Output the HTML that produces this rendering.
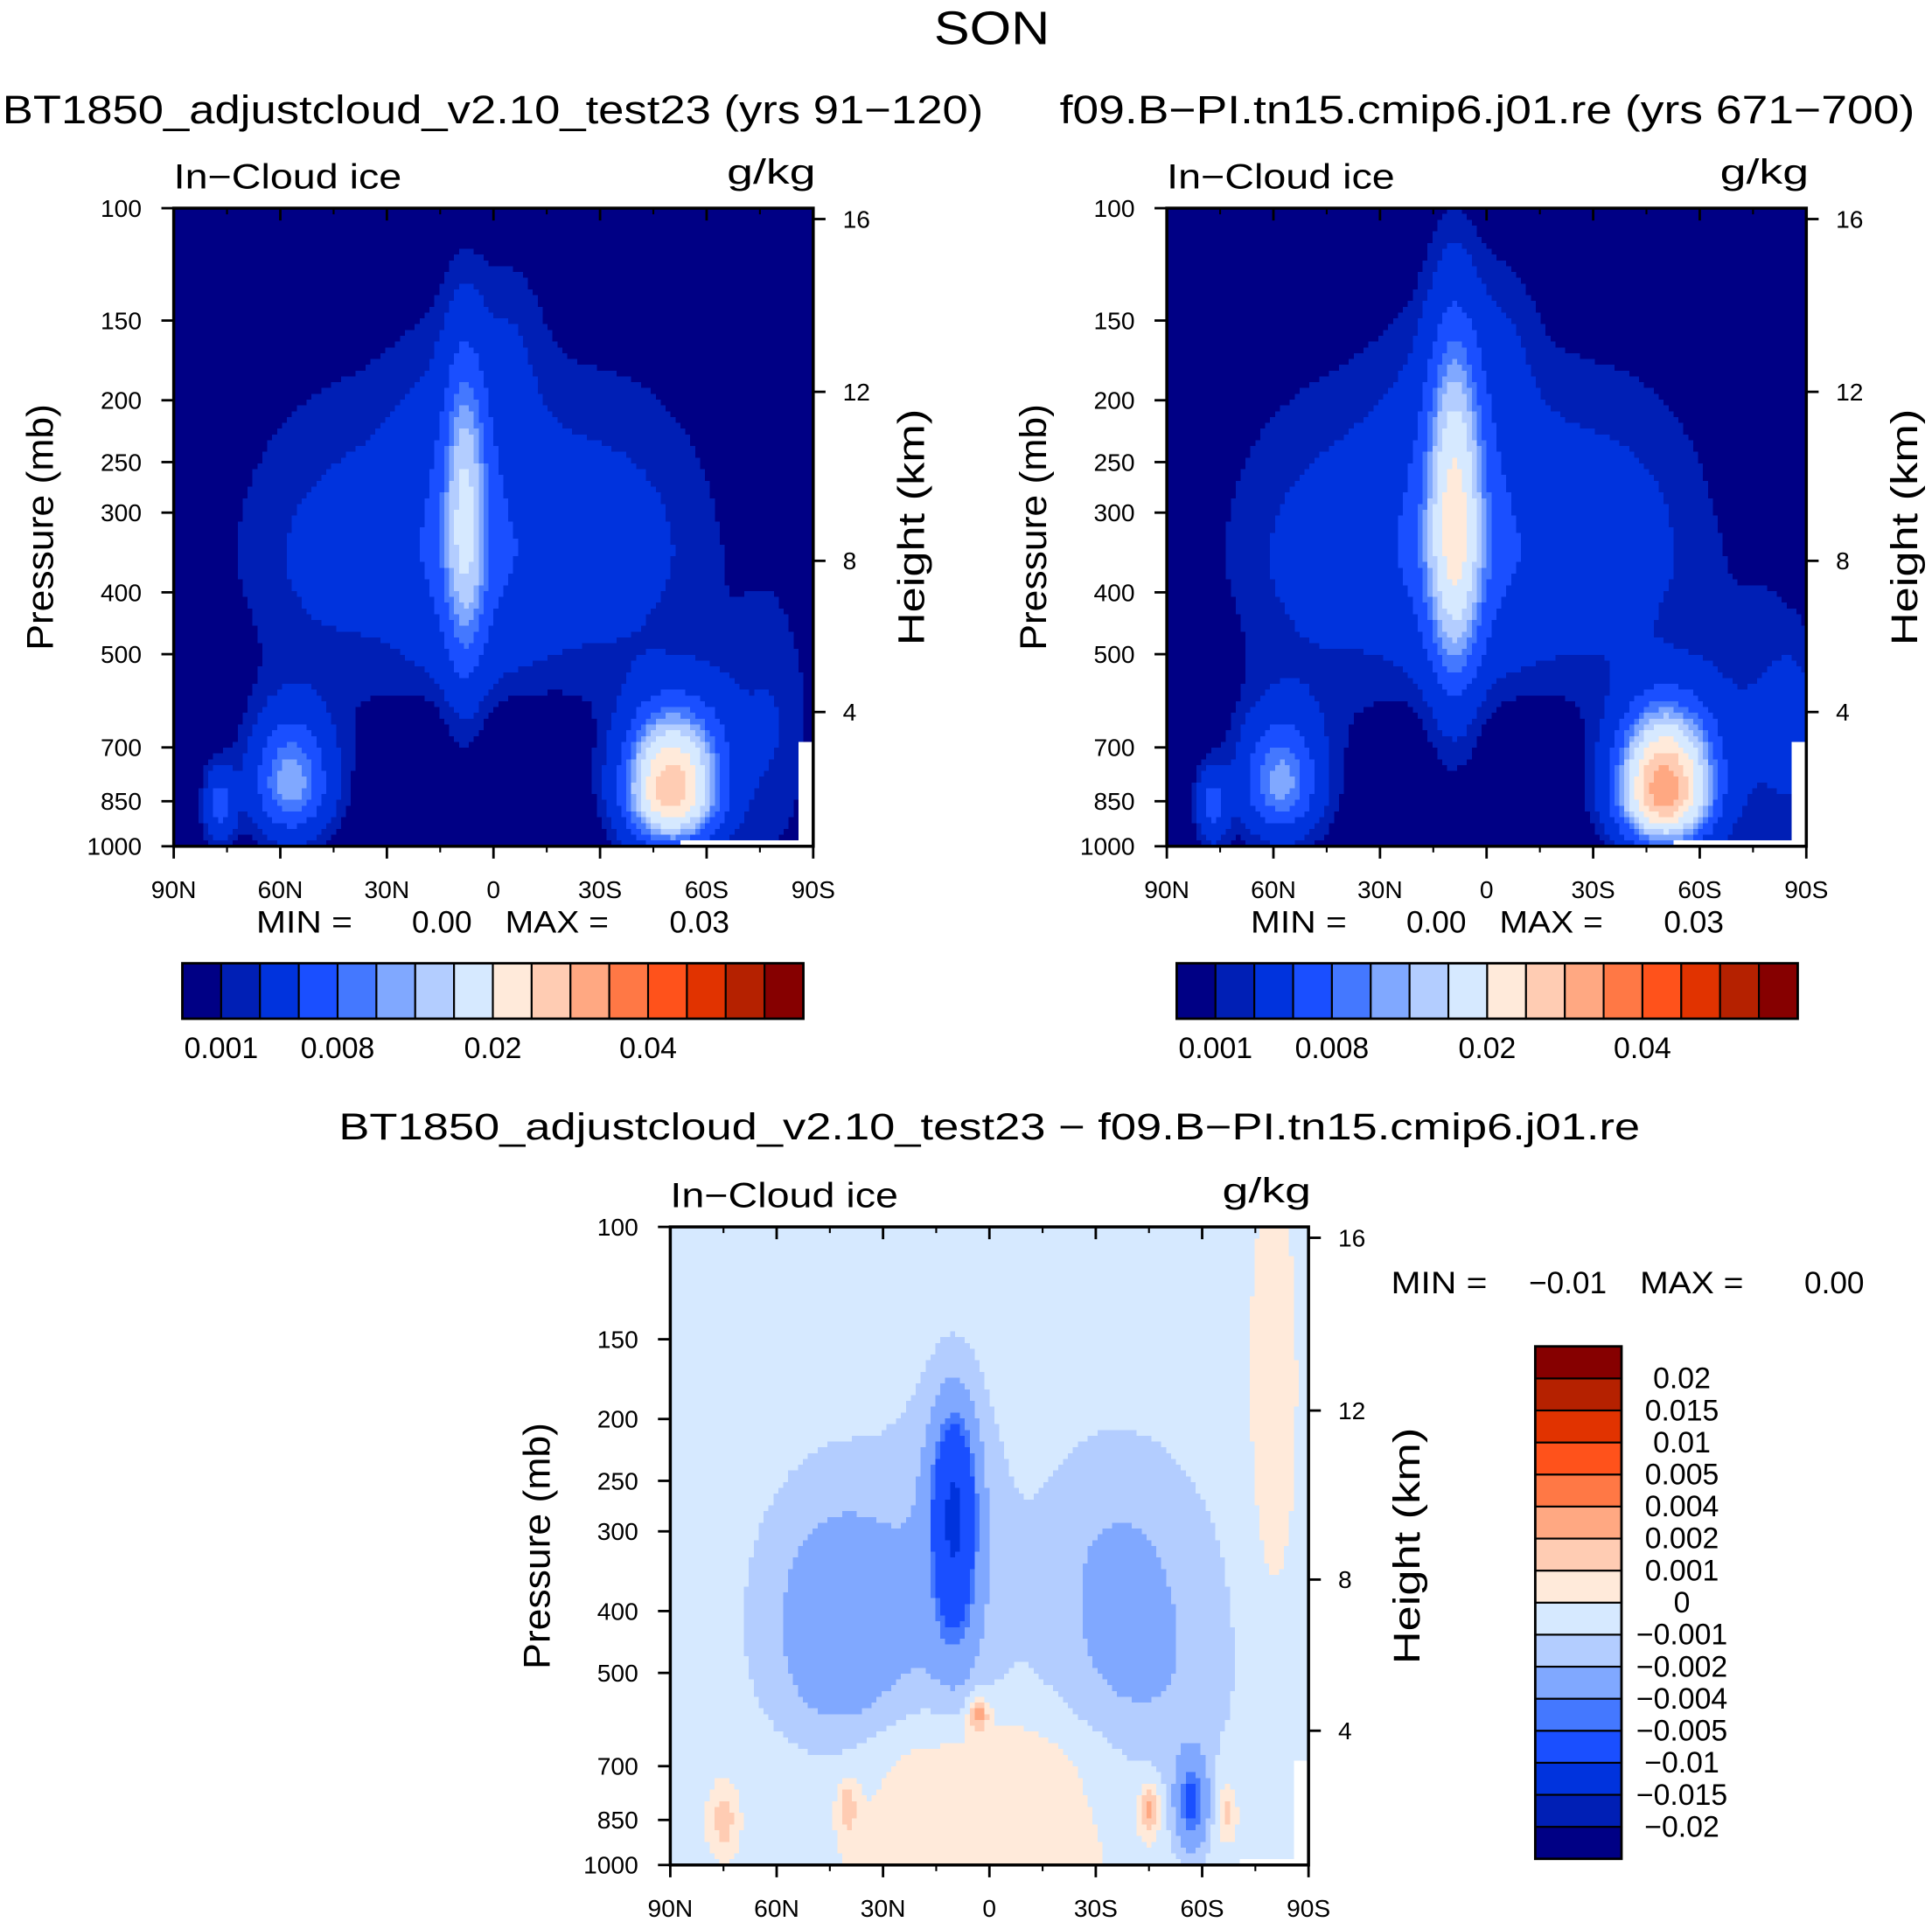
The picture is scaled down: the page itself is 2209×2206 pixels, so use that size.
<!DOCTYPE html>
<html><head><meta charset="utf-8">
<style>
html,body{margin:0;padding:0;background:#fff;}
#wrap{width:1568px;height:1561px;transform:scale(1.40880,1.40872);transform-origin:0 0;position:relative;}
svg text{font-family:"Liberation Sans",sans-serif;fill:#000;}
</style></head>
<body>
<div id="wrap">
<svg id="svg" width="1568" height="1561" viewBox="0 0 1568 1561">
<text x="805" y="36" font-size="38" text-anchor="middle" textLength="94" lengthAdjust="spacingAndGlyphs">SON</text>
</svg>
</div>
<script>
// ---- data ----
const colors=["#000085","#001FB5","#0033DD","#1A4FFF","#4478FF","#80A8FF","#B3CDFF","#D6E9FF","#FFEADA","#FFCCB3","#FFA882","#FF7845","#FF521B","#E13300","#B52100","#860000"];
const levelsAbs=[0.001,0.002,0.005,0.008,0.01,0.012,0.015,0.02,0.025,0.03,0.035,0.04,0.045,0.05,0.06];
const levelLabelsAbs=["0.001","0.008","0.02","0.04"];
const levelLabelIdxAbs=[0,3,7,11];
const levelsDiff=[-0.02,-0.015,-0.01,-0.005,-0.004,-0.002,-0.001,0,0.001,0.002,0.004,0.005,0.01,0.015,0.02];
const levelLabelsDiff=["−0.02","−0.015","−0.01","−0.005","−0.004","−0.002","−0.001","0","0.001","0.002","0.004","0.005","0.01","0.015","0.02"];
const pressureTicks=[100,150,200,250,300,400,500,700,850,1000];
const latTicks=[90,60,30,0,-30,-60,-90];
const latLabels=["90N","60N","30N","0","30S","60S","90S"];
const heightLabels=["4","8","12","16"];
const heightPressures=[616,357,194,104];
// blob columns: lat, sigmaLat, pressure, sigmaUp, sigmaDown, amplitude
const p1Lat=[5,8,8,50,-40,57,77,-50,-78,-62,-5,2];
const p1SLat=[38,4,12,16,16,7,3,8,8,6,6,22];
const p1P=[330,300,320,450,400,800,860,820,650,700,160,480];
const p1SUp=[.2,.17,.2,.2,.2,.07,.04,.08,.15,.1,.1,.15];
const p1SDn=[.09,.16,.14,.2,.2,.05,.04,.05,.15,.1,.1,.06];
const p1Amp=[.0028,.011,.0025,.0013,.0013,.011,.006,.028,.002,.002,.001,.0018];
const p2Lat=[5,9,9,50,-40,58,77,-50,-78,-88,-62,-5,2];
const p2SLat=[38,5,13,16,16,7,3,8,8,5,6,6,22];
const p2P=[330,310,320,450,400,800,860,820,650,650,700,160,480];
const p2SUp=[.2,.2,.2,.2,.2,.07,.04,.08,.15,.1,.1,.1,.15];
const p2SDn=[.09,.16,.14,.2,.2,.05,.04,.05,.15,.1,.1,.1,.06];
const p2Amp=[.003,.0165,.003,.0015,.0015,.0105,.006,.033,.002,.002,.002,.001,.0018];
const dLat=[10,10,42,35,-33,-50,0,-80,-57,3,-45,75,40,-67,18];
const dSLat=[4,10,12,22,14,15,32,5,3,2,2,3,2,2,12];
const dP=[280,330,420,420,360,500,720,180,800,580,820,850,810,830,560];
const dSUp=[.1,.2,.12,.2,.15,.2,.07,.25,.05,.02,.03,.04,.03,.03,.06];
const dSDn=[.12,.2,.12,.18,.2,.2,.3,.25,.05,.02,.03,.04,.03,.03,.3];
const dAmp=[-.009,-.0013,-.0022,-.0011,-.0014,-.0011,.0015,.0012,-.005,.003,.003,.002,.002,.002,.0003];
const dBase=-0.0005;

const NS="http://www.w3.org/2000/svg";
const svg=document.getElementById('svg');
function mk(tag,attrs,parent){const e=document.createElementNS(NS,tag);for(const k in attrs)e.setAttribute(k,attrs[k]);(parent||svg).appendChild(e);return e;}
function txt(x,y,s,size,anchor,parent,len){const a={x:x,y:y,'font-size':size,'text-anchor':anchor||'middle'};if(len){a.textLength=len;a.lengthAdjust='spacingAndGlyphs';}const t=mk('text',a,parent);t.textContent=s;return t;}

function field(lat,p,B,base){let v=base;const z=Math.log10(p);
 for(let i=0;i<B.lat.length;i++){const dz=z-Math.log10(B.p[i]);const s=dz<0?B.up[i]:B.dn[i];
  const dl=(lat-B.lat[i])/B.sl[i];v+=B.amp[i]*Math.exp(-0.5*dl*dl-0.5*(dz/s)*(dz/s));}
 return v;}
function lev(v,L){let k=0;while(k<L.length&&v>=L[k])k++;return k;}

function panel(name,X0,Y0,W,H,B,base,L,maskFn){
 const g=mk('g',{});
 
 
 const xs=lat=>X0+(90-lat)/180*W;
 const ys=p=>Y0+Math.log10(p/100)*H;
 const nx=130,ny=110;
 const cells=mk('g',{'shape-rendering':'crispEdges'},g);
 
 
 for(let j=0;j<ny;j++){
  const z0=j/ny,z1=(j+1)/ny;const pc=100*Math.pow(10,(z0+z1)/2);
  let start=0,cur=null;
  for(let i=0;i<=nx;i++){
   let c=null;
   if(i<nx){const lat=90-(i+0.5)/nx*180;
     c=maskFn&&maskFn(lat,pc)?'#ffffff':colors[lev(field(lat,pc,B,base),L)];}
   if(c!==cur){
    if(cur!==null){const r=mk('rect',{x:(X0+start/nx*W).toFixed(2),y:(Y0+z0*H).toFixed(2),width:((i-start)/nx*W+0.6).toFixed(2),height:(H/ny+0.6).toFixed(2),fill:cur},cells);
      
      }
    start=i;cur=c;}
  }
 }
 const fr=mk('rect',{x:X0,y:Y0,width:W,height:H,fill:'none',stroke:'#000','stroke-width':2.5},g);
 
 
 latTicks.forEach((lt,i)=>{const x=xs(lt);
  mk('line',{x1:x,y1:Y0+H,x2:x,y2:Y0+H+10,stroke:'#000','stroke-width':2},g);
  mk('line',{x1:x,y1:Y0,x2:x,y2:Y0+10,stroke:'#000','stroke-width':2},g);
  const t=txt(x,Y0+H+42,latLabels[i],20,'middle',g);
  
  });
 for(let lt=75;lt>-90;lt-=15){if(lt%30===0)continue;const x=xs(lt);
  mk('line',{x1:x,y1:Y0+H,x2:x,y2:Y0+H+5,stroke:'#000','stroke-width':1.5},g);
  mk('line',{x1:x,y1:Y0,x2:x,y2:Y0+5,stroke:'#000','stroke-width':1.5},g);}
 pressureTicks.forEach(p=>{const y=ys(p);
  mk('line',{x1:X0-10,y1:y,x2:X0,y2:y,stroke:'#000','stroke-width':2},g);
  const t=txt(X0-26,y+7,String(p),20,'end',g);
  
  });
 heightPressures.forEach((p,i)=>{const y=ys(p);
  mk('line',{x1:X0+W,y1:y,x2:X0+W+10,y2:y,stroke:'#000','stroke-width':2},g);
  const t=txt(X0+W+24,y+7,heightLabels[i],20,'start',g);
  
  });
 const a=txt(X0,Y0-16,'In−Cloud ice',28,'start',g,185);
 
 
 const u=txt(X0+W+2,Y0-20,'g/kg',28,'end',g,72);
 
 
 const yl=txt(0,0,'Pressure (mb)',30,'middle',g,200);
 yl.setAttribute('transform',`translate(${X0-98},${Y0+H/2}) rotate(-90)`);
 
 
 const hl=txt(0,0,'Height (km)',30,'middle',g,192);
 hl.setAttribute('transform',`translate(${X0+W+90},${Y0+H/2}) rotate(-90)`);
 
 
}
const B1={lat:p1Lat,sl:p1SLat,p:p1P,up:p1SUp,dn:p1SDn,amp:p1Amp};
const B2={lat:p2Lat,sl:p2SLat,p:p2P,up:p2SUp,dn:p2SDn,amp:p2Amp};
const B3={lat:dLat,sl:dSLat,p:dP,up:dSUp,dn:dSDn,amp:dAmp};
const maskA=(lat,p)=>(lat<-86&&p>690)||(lat<-52&&p>985);
const maskB=(lat,p)=>(lat<-86&&p>690)||(lat<-70&&p>975);
panel('panel-test23',141,169,519,518,B1,0,levelsAbs,maskA);
panel('panel-control',947,169,519,518,B2,0,levelsAbs,maskA);
panel('panel-difference',544,996,518,518,B3,dBase,levelsDiff,maskB);

function titleT(x,y,s,size,name,len){const t=txt(x,y,s,size,'middle',null,len);}
titleT(400,100,'BT1850_adjustcloud_v2.10_test23 (yrs 91−120)',32,'panel1-title',796);
titleT(1207,100,'f09.B−PI.tn15.cmip6.j01.re (yrs 671−700)',32,'panel2-title',694);
titleT(803,925,'BT1850_adjustcloud_v2.10_test23 − f09.B−PI.tn15.cmip6.j01.re',30,'diff-title',1056);
function minmax(x,y,mn,mx,name){
 const g=mk('g',{});
 txt(x,y,'MIN  =',25,'start',g,78);txt(x+175,y,mn,25,'end',g);txt(x+202,y,'MAX  =',25,'start',g,84);txt(x+384,y,mx,25,'end',g);}
minmax(208,757,'0.00','0.03','minmax-panel1');
minmax(1015,757,'0.00','0.03','minmax-panel2');
minmax(1129,1050,'−0.01','0.00','minmax-diff');
function hbar(X0,Y0,W,H,name){
 const g=mk('g',{});
 const bw=W/colors.length;
 colors.forEach((c,i)=>{const r=mk('rect',{x:X0+i*bw,y:Y0,width:bw,height:H,fill:c,stroke:'#000','stroke-width':1.5},g);
  });
 mk('rect',{x:X0,y:Y0,width:W,height:H,fill:'none',stroke:'#000','stroke-width':2},g);
 levelLabelIdxAbs.forEach((k,i)=>{txt(X0+(k+1)*bw,Y0+77,levelLabelsAbs[i],24,'middle',g);});
}
hbar(148,782,504,45,'colorbar-panel1');
hbar(955,782,504,45,'colorbar-panel2');
(function(){const X0=1246,Y0=1093,W=70,H=416;const g=mk('g',{});
 
 const bh=H/colors.length;
 colors.forEach((c,i)=>{const r=mk('rect',{x:X0,y:Y0+H-(i+1)*bh,width:W,height:bh,fill:c,stroke:'#000','stroke-width':1.5},g);
  });
 mk('rect',{x:X0,y:Y0,width:W,height:H,fill:'none',stroke:'#000','stroke-width':2},g);
 levelLabelsDiff.forEach((s,i)=>{txt(1365,Y0+H-(i+1)*bh+8,s,24,'middle',g);});
})();
</script>
</body></html>
